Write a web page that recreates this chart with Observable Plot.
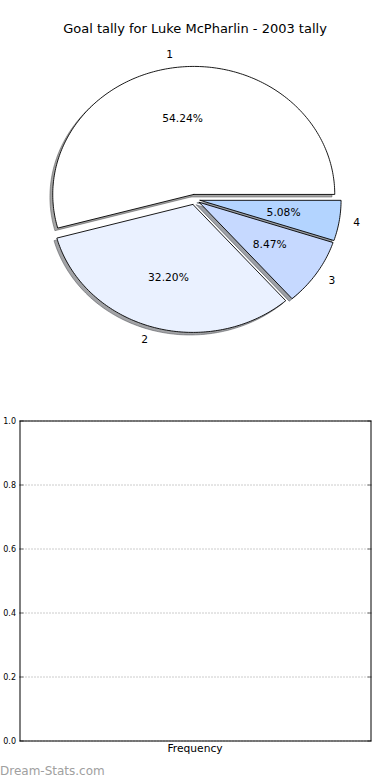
<!DOCTYPE html>
<html><head><meta charset="utf-8">
<script src="https://cdn.jsdelivr.net/npm/d3@7"></script>
<script src="https://cdn.jsdelivr.net/npm/@observablehq/plot@0.6"></script>
<style>
html,body{margin:0;padding:0;background:#fff;}
#wrap{position:relative;width:390px;height:780px;overflow:hidden;font-family:"DejaVu Sans",sans-serif;}
#pie{position:absolute;left:0;top:0;}
#bar{position:absolute;left:0;top:400px;}
#title{position:absolute;left:0;top:21px;width:390px;text-align:center;font-size:13px;line-height:15px;color:#000;}
#mark{position:absolute;left:0;top:764px;font-size:12px;line-height:14px;color:#a0a0a0;}
</style></head><body>
<div id="wrap">
  <div id="pie"></div>
  <div id="bar"></div>
  <div id="title"></div>
  <div id="mark"></div>
</div>
<script>
// ---- data ----
const titleText = "Goal tally for Luke McPharlin - 2003 tally";
const categories = ["1", "2", "3", "4"];
const counts = [32, 19, 5, 3];
const sliceColors = ["#ffffff", "#eaf1ff", "#c6d9ff", "#b3d4ff"];
const yTicks = [0, 0.2, 0.4, 0.6, 0.8, 1.0];
const xCategories = ["Frequency"];
const watermark = "Dream-Stats.com";

document.getElementById("title").textContent = titleText;
document.getElementById("mark").textContent = watermark;

// ---- pie ----
const W = 390, H = 380, CX = 194, CY = 199, RX = 141, RY = 128;
const EXPLODE = 0.04, SHADOW = 0.02;
const total = d3.sum(counts);
let acc = 0;
const slices = counts.map((c, i) => {
  const a0 = acc / total * 2 * Math.PI; acc += c;
  const a1 = acc / total * 2 * Math.PI;
  const m = (a0 + a1) / 2;
  return {i, a0, a1, m, ox: EXPLODE * Math.cos(m), oy: EXPLODE * Math.sin(m),
    label: categories[i], pct: (c / total * 100).toFixed(2) + "%", color: sliceColors[i]};
});
function wedgePts(s, dx, dy) {
  const pts = [{x: s.ox + dx, y: s.oy + dy}];
  const n = Math.max(8, Math.ceil((s.a1 - s.a0) / (Math.PI / 180)));
  for (let k = 0; k <= n; k++) {
    const a = s.a0 + (s.a1 - s.a0) * k / n;
    pts.push({x: s.ox + dx + Math.cos(a), y: s.oy + dy + Math.sin(a)});
  }
  pts.push(pts[0]);
  return pts;
}
function shadeColor(c) {
  const r = d3.rgb(c);
  return d3.rgb(r.r * 0.3, r.g * 0.3, r.b * 0.3).formatHex();
}
const shadowMarks = slices.map(s => Plot.line(wedgePts(s, -SHADOW, -SHADOW), {
  x: "x", y: "y", fill: shadeColor(s.color), fillOpacity: 0.5,
  stroke: shadeColor(s.color), strokeOpacity: 0.5, strokeWidth: 1, curve: "linear"
}));
const wedgeMarks = slices.map(s => Plot.line(wedgePts(s, 0, 0), {
  x: "x", y: "y", fill: s.color, stroke: "#000", strokeWidth: 0.9,
  strokeLinejoin: "miter", curve: "linear"
}));
const labelPts = slices.map(s => ({
  x: s.ox + 1.1 * Math.cos(s.m), y: s.oy + 1.1 * Math.sin(s.m),
  text: s.label, left: Math.cos(s.m) < 0
}));
const pctPts = slices.map(s => ({
  x: s.ox + 0.6 * Math.cos(s.m), y: s.oy + 0.6 * Math.sin(s.m), text: s.pct
}));
const FS = 10.7;

const pie = Plot.plot({
  width: W, height: H, margin: 0,
  x: {axis: null, domain: [-CX / RX, (W - CX) / RX], range: [0, W]},
  y: {axis: null, domain: [-(H - CY) / RY, CY / RY], range: [H, 0]},
  style: {fontFamily: "DejaVu Sans", fontSize: "10px", background: "transparent", color: "#000"},
  marks: [
    ...shadowMarks,
    ...wedgeMarks,
    Plot.text(labelPts.filter(d => d.left), {x: "x", y: "y", text: "text", textAnchor: "end", fontSize: FS, fill: "#000"}),
    Plot.text(labelPts.filter(d => !d.left), {x: "x", y: "y", text: "text", textAnchor: "start", fontSize: FS, fill: "#000"}),
    Plot.text(pctPts, {x: "x", y: "y", text: "text", textAnchor: "middle", fontSize: FS, fill: "#000"})
  ]
});
document.getElementById("pie").appendChild(pie);

// ---- empty axes ----
const bar = Plot.plot({
  width: 390, height: 380,
  marginTop: 20.5, marginBottom: 39.5, marginLeft: 19.5, marginRight: 19.5,
  x: {type: "band", domain: xCategories, label: null},
  y: {domain: [0, 1], label: null},
  style: {fontFamily: "DejaVu Sans", fontSize: "10px", background: "transparent", color: "#000"},
  marks: [
    Plot.gridY(yTicks, {stroke: "#999", strokeOpacity: 1, strokeDasharray: "1,2"}),
    Plot.axisY(yTicks, {anchor: "left", tickSize: 0, tickPadding: 4, tickFormat: d3.format(".1f"), fontSize: 8, label: null}),
    Plot.axisY(yTicks, {anchor: "left", tickSize: -4, tickFormat: () => "", label: null, stroke: "#666"}),
    Plot.axisY(yTicks, {anchor: "right", tickSize: -4, tickFormat: () => "", label: null, stroke: "#666"}),
    Plot.axisX({anchor: "bottom", tickSize: 0, tickPadding: 3, fontSize: FS, label: null}),
    Plot.frame({stroke: "#000", strokeWidth: 1})
  ]
});
document.getElementById("bar").appendChild(bar);
</script>
</body></html>
